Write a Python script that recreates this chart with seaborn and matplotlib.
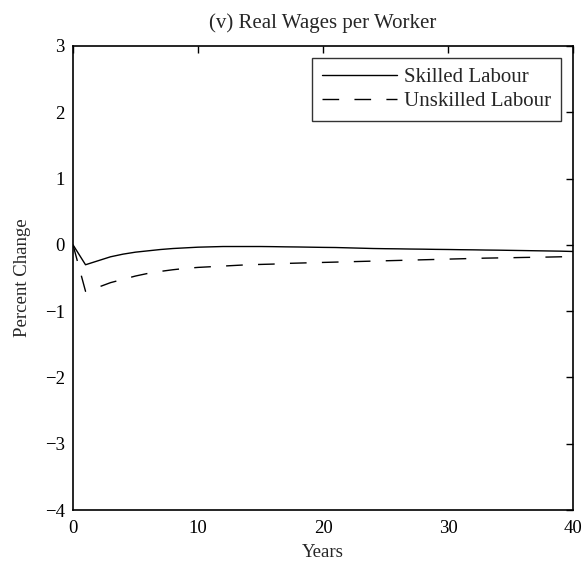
"""Real wages per worker: skilled vs unskilled labour, percent change over time."""

import matplotlib
matplotlib.use("Agg")
import matplotlib.pyplot as plt
import numpy as np
import pandas as pd
import seaborn as sns


YEARS = list(range(0, 41))

SKILLED = [
    0.0, -0.30, -0.24, -0.18, -0.14, -0.11, -0.09, -0.07, -0.055, -0.045,
    -0.035, -0.03, -0.025, -0.025, -0.025, -0.025, -0.027, -0.03, -0.032, -0.035,
    -0.038, -0.04, -0.045, -0.05, -0.055, -0.058, -0.06, -0.063, -0.065, -0.068,
    -0.07, -0.073, -0.075, -0.078, -0.08, -0.083, -0.086, -0.089, -0.092, -0.095,
    -0.10,
]

UNSKILLED = [
    0.0, -0.70, -0.64, -0.57, -0.52, -0.47, -0.43, -0.40, -0.375, -0.355,
    -0.34, -0.33, -0.32, -0.31, -0.30, -0.295, -0.29, -0.28, -0.275, -0.27,
    -0.265, -0.26, -0.255, -0.25, -0.245, -0.24, -0.235, -0.23, -0.225, -0.22,
    -0.215, -0.21, -0.205, -0.20, -0.197, -0.194, -0.19, -0.187, -0.184, -0.18,
    -0.178,
]

SERIES_NAMES = ["Skilled Labour", "Unskilled Labour"]
X_TICKS = [0, 10, 20, 30, 40]
Y_TICKS = [-4, -3, -2, -1, 0, 1, 2, 3]


def build_frame() -> pd.DataFrame:
    """Long-format table for seaborn."""
    parts = []
    for name, values in zip(SERIES_NAMES, [SKILLED, UNSKILLED]):
        parts.append(pd.DataFrame({"Years": YEARS, "value": values, "series": name}))
    return pd.concat(parts, ignore_index=True)


def main() -> None:
    sns.set_style("white")
    plt.rcParams["font.family"] = ["Liberation Serif", "DejaVu Serif"]
    plt.rcParams["axes.unicode_minus"] = True

    df = build_frame()

    fig = plt.figure(figsize=(5.86, 5.65), dpi=100)
    ax = fig.add_axes([0.1246, 0.0973, 0.8534, 0.8213])

    sns.lineplot(
        data=df,
        x="Years",
        y="value",
        hue="series",
        style="series",
        palette=["black", "black"],
        dashes={SERIES_NAMES[0]: "", SERIES_NAMES[1]: (12, 11)},
        linewidth=1.0,
        ax=ax,
        legend=False,
    )

    ax.set_xlim(0, 40)
    ax.set_ylim(-4, 3)
    ax.set_xticks(X_TICKS)
    ax.set_yticks(Y_TICKS)
    ax.set_yticklabels([f"{t}".replace("-", "\u2212") for t in Y_TICKS])
    ax.tick_params(direction="in", length=5, width=1, labelsize=13.5,
                   top=True, right=True, colors="black")
    ax.tick_params(axis="x", pad=7)
    ax.tick_params(axis="y", pad=6)
    for spine in ax.spines.values():
        spine.set_visible(True)
        spine.set_color("black")
        spine.set_linewidth(1.2)

    ax.set_xlabel("Years", fontsize=13.5, labelpad=5)
    ax.set_ylabel("Percent Change", fontsize=13.5, labelpad=10)
    ax.set_title("(v) Real Wages per Worker", fontsize=15, pad=13)

    handles = ax.get_lines()[:2]
    leg = ax.legend(handles, SERIES_NAMES, loc="upper right", fontsize=15,
                    handlelength=3.6, frameon=True, fancybox=False,
                    borderpad=0.45, labelspacing=0.2, handletextpad=0.35,
                    borderaxespad=0.6)
    leg.get_frame().set_edgecolor("black")
    leg.get_frame().set_linewidth(1.0)

    fig.savefig("out.png", dpi=100)
    plt.close(fig)


if __name__ == "__main__":
    main()
